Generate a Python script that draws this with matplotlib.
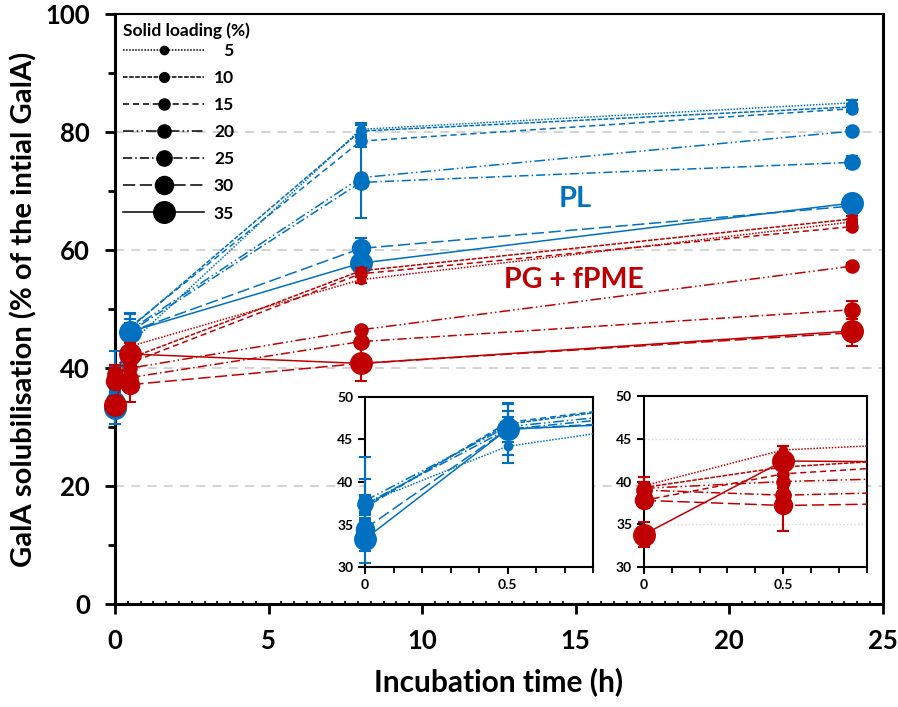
import matplotlib
matplotlib.use('Agg')
import matplotlib.pyplot as plt
import numpy as np
from matplotlib.lines import Line2D
from matplotlib.legend_handler import HandlerLine2D
from matplotlib.ticker import MultipleLocator

plt.rcParams['font.family'] = ['Lato', 'DejaVu Sans']
plt.rcParams['font.weight'] = 'bold'
plt.rcParams['axes.labelweight'] = 'bold'

# === data ===
times = [0, 0.5, 8, 24]
loadings = ['5', '10', '15', '20', '25', '30', '35']

pl_5 = [37.5, 44.2, 80.5, 85.0]
pl_10 = [37.2, 46.8, 80.2, 84.3]
pl_15 = [37.0, 47.0, 78.5, 84.0]
pl_20 = [37.8, 46.5, 72.3, 80.2]
pl_25 = [37.4, 46.2, 71.5, 74.9]
pl_30 = [34.5, 46.2, 60.3, 67.5]
pl_35 = [33.3, 46.2, 57.8, 68.0]

pl_err_5 = [1.0, 2.0, 1.0, 0.5]
pl_err_10 = [0.8, 1.5, 1.0, 0.5]
pl_err_15 = [1.2, 2.3, 1.0, 0.5]
pl_err_20 = [2.5, 1.2, 6.8, 0.5]
pl_err_25 = [5.5, 3.0, 1.0, 1.0]
pl_err_30 = [1.0, 1.5, 1.8, 1.0]
pl_err_35 = [2.8, 3.0, 1.0, 1.0]

pg_5 = [39.5, 43.7, 55.0, 64.8]
pg_10 = [39.3, 41.7, 56.5, 65.3]
pg_15 = [37.8, 40.9, 56.0, 64.0]
pg_20 = [39.2, 40.0, 46.5, 57.3]
pg_25 = [39.0, 38.4, 44.5, 49.9]
pg_30 = [37.8, 37.2, 40.8, 46.0]
pg_35 = [33.8, 42.4, 40.8, 46.3]

pg_err_5 = [1.0, 0.5, 0.5, 0.5]
pg_err_10 = [1.2, 0.8, 0.5, 0.5]
pg_err_15 = [0.8, 1.0, 0.5, 0.5]
pg_err_20 = [0.8, 0.8, 0.5, 0.5]
pg_err_25 = [0.8, 0.8, 0.5, 1.5]
pg_err_30 = [0.8, 3.0, 0.5, 0.5]
pg_err_35 = [1.5, 1.8, 3.0, 2.5]

pl_vals = [pl_5, pl_10, pl_15, pl_20, pl_25, pl_30, pl_35]
pl_errs = [pl_err_5, pl_err_10, pl_err_15, pl_err_20, pl_err_25, pl_err_30, pl_err_35]
pg_vals = [pg_5, pg_10, pg_15, pg_20, pg_25, pg_30, pg_35]
pg_errs = [pg_err_5, pg_err_10, pg_err_15, pg_err_20, pg_err_25, pg_err_30, pg_err_35]

# === styles ===
BLUE = '#0070C0'
RED = '#C00000'
styles = [(0, (1, 1)), (0, (3, 1)), (0, (4, 2.5)), (0, (7, 2, 1, 2, 1, 2)),
          (0, (6, 2, 1, 2)), (0, (8, 3)), '-']
msizes = [6, 7, 8, 9.5, 11, 13, 15.5]


def draw_series(ax, vals, errs, color, zo, xmax):
    for v, e, ls, ms in zip(vals, errs, styles, msizes):
        # connecting line, clipped to the axes
        ax.plot(times, v, color=color, ls=ls, lw=1.1, zorder=zo)
        # markers + error bars, only for points inside the x range, not clipped
        sel = [i for i, t in enumerate(times) if t <= xmax]
        eb = ax.errorbar([times[i] for i in sel], [v[i] for i in sel],
                         yerr=[e[i] for i in sel], color=color, ls='none',
                         marker='o', ms=ms, capsize=4, elinewidth=1.5,
                         capthick=1.5, zorder=zo + 0.5)
        for child in eb.get_children():
            child.set_clip_on(False)


class RightMarker(HandlerLine2D):
    def get_xdata(self, legend, xdescent, ydescent, width, height, fontsize):
        xdata = np.array([-xdescent, -xdescent + width])
        return xdata, np.array([-xdescent + 0.84 * width])


fig = plt.figure(figsize=(8.98, 7.07), dpi=100)
ax = fig.add_axes([0.128, 0.1457, 0.855, 0.834])

for y in [20, 40, 60, 80]:
    ax.axhline(y, color='#d0d0d0', ls=(0, (5, 4)), lw=1.3, zorder=0)

draw_series(ax, pl_vals, pl_errs, BLUE, 3, 25)
draw_series(ax, pg_vals, pg_errs, RED, 4, 25)

ax.set_xlim(0, 25)
ax.set_ylim(0, 100)
ax.xaxis.set_major_locator(MultipleLocator(5))
ax.xaxis.set_minor_locator(MultipleLocator(5 / 12))
ax.yaxis.set_major_locator(MultipleLocator(20))
ax.yaxis.set_minor_locator(MultipleLocator(10))
ax.tick_params(axis='both', which='major', labelsize=18.5, width=2, length=7, pad=11)
ax.tick_params(axis='y', which='minor', width=2, length=5)
ax.tick_params(axis='x', which='minor', direction='in', width=1.2, length=2.5)
for lab in ax.get_xticklabels() + ax.get_yticklabels():
    lab.set_fontweight('bold')
for s in ['left', 'bottom', 'right']:
    ax.spines[s].set_linewidth(2.2)
ax.spines['top'].set_linewidth(1.5)
ax.spines['top'].set_linestyle((0, (3, 1)))

ax.set_xlabel('Incubation time (h)', fontsize=21.5, labelpad=10)
ax.set_ylabel('GalA solubilisation (% of the intial GalA)', fontsize=21, labelpad=6)

ax.text(14.98, 67.3, 'PL', color=BLUE, fontsize=21, ha='center', va='baseline')
ax.text(14.95, 53.6, 'PG + fPME', color=RED, fontsize=20.5, ha='center', va='baseline')

# legend
handles = [Line2D([], [], color='k', ls=ls, lw=1.1, marker='o', ms=ms)
           for ls, ms in zip(styles, msizes)]
labels = ['\u2007' + l if len(l) == 1 else l for l in loadings]
leg = ax.legend(handles, labels, loc='upper left', bbox_to_anchor=(0.0, 1.0),
                frameon=False, title='Solid loading (%)', fontsize=12.5,
                title_fontproperties={'size': 12.5, 'weight': 'bold'},
                handlelength=4.7, handletextpad=0.55, labelspacing=0.64,
                borderaxespad=0.2, borderpad=0.25, numpoints=1,
                handler_map={h: RightMarker() for h in handles})
leg._legend_box.align = 'left'
leg._legend_box.sep = 3
leg.set_zorder(6)

# insets
for rect, vals, errs, color, grid in [([0.4065, 0.198, 0.2539, 0.2405], pl_vals, pl_errs, BLUE, False),
                                      ([0.717, 0.198, 0.2483, 0.2418], pg_vals, pg_errs, RED, True)]:
    ins = fig.add_axes(rect)
    ins.set_facecolor('white')
    ins.set_zorder(7)
    if grid:
        for y in [35, 40, 45]:
            ins.axhline(y, color='#d8d8d8', ls=':', lw=1.0, zorder=0)
    draw_series(ins, vals, errs, color, 3, 0.8)
    ins.set_xlim(0, 0.8)
    ins.set_ylim(30, 50)
    ins.set_xticks([0, 0.5])
    ins.set_xticklabels(['0', '0.5'])
    ins.xaxis.set_minor_locator(MultipleLocator(0.1))
    ins.yaxis.set_major_locator(MultipleLocator(5))
    ins.tick_params(axis='both', which='major', labelsize=10, width=1.5, length=5)
    ins.tick_params(axis='x', which='minor', width=1.3, length=4)
    for lab in ins.get_xticklabels() + ins.get_yticklabels():
        lab.set_fontweight('bold')
    for s in ins.spines.values():
        s.set_linewidth(1.5)

fig.savefig('out.png', dpi=100)
